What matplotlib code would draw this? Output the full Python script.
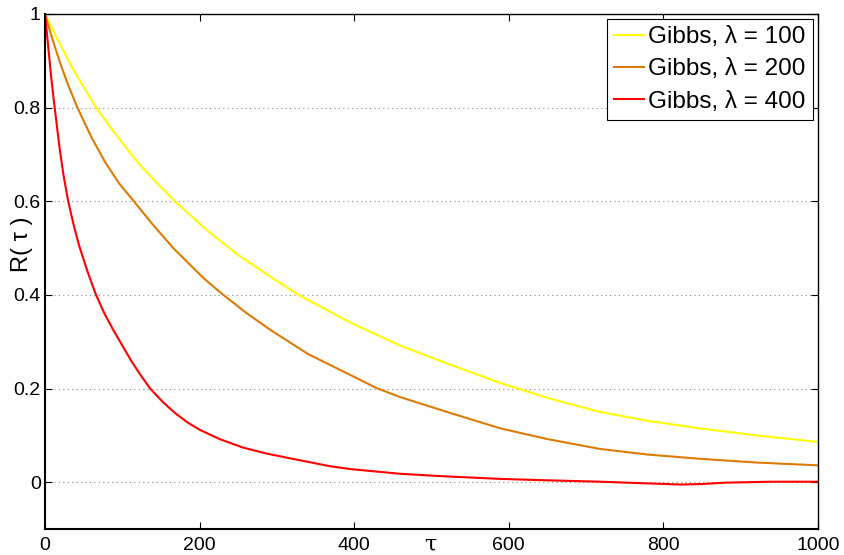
import matplotlib
matplotlib.use("Agg")
import matplotlib.pyplot as plt

plt.rcParams['font.family'] = ['Liberation Sans', 'DejaVu Sans']

tau_100 = [0, 8, 19, 37, 66, 92, 119, 138, 168, 209, 250, 298, 328, 395, 459, 524, 589, 650, 718, 780, 847, 920, 1000]
r_100 = [1.0, 0.973, 0.937, 0.880, 0.800, 0.742, 0.685, 0.651, 0.600, 0.539, 0.485, 0.432, 0.400, 0.341, 0.292, 0.251, 0.212, 0.180, 0.150, 0.131, 0.115, 0.100, 0.086]

tau_200 = [0, 8, 19, 30, 42, 60, 78, 96, 115, 138, 166, 205, 227, 260, 291, 340, 395, 429, 459, 524, 589, 650, 718, 780, 847, 920, 1000]
r_200 = [1.0, 0.955, 0.898, 0.848, 0.800, 0.737, 0.683, 0.638, 0.600, 0.553, 0.500, 0.436, 0.405, 0.362, 0.326, 0.274, 0.229, 0.201, 0.182, 0.148, 0.115, 0.092, 0.071, 0.059, 0.050, 0.042, 0.036]

tau_400 = [0, 4, 8, 12.5, 19, 24, 30, 37, 44, 55, 66, 77, 88, 100, 112, 124, 136, 152, 168, 184, 200, 226, 256, 287, 320, 369, 395, 459, 511, 589, 650, 718, 770, 822, 850, 880, 940, 1000]
r_400 = [1.0, 0.933, 0.865, 0.800, 0.712, 0.655, 0.600, 0.550, 0.506, 0.450, 0.400, 0.360, 0.326, 0.292, 0.258, 0.228, 0.200, 0.172, 0.148, 0.128, 0.112, 0.092, 0.074, 0.061, 0.050, 0.034, 0.028, 0.018, 0.013, 0.007, 0.004, 0.001, -0.002, -0.005, -0.004, -0.001, 0.001, 0.001]

labels = ['Gibbs, λ = 100', 'Gibbs, λ = 200', 'Gibbs, λ = 400']
colors = ['#FFFF00', '#DB7B05', '#FF0000']

xticks = [0, 200, 400, 600, 800, 1000]
yticks = [0, 0.2, 0.4, 0.6, 0.8, 1]
yticklabels = ['0', '0.2', '0.4', '0.6', '0.8', '1']

fig = plt.figure(figsize=(8.44, 5.55), dpi=100)
ax = fig.add_axes([45/844, 1 - 529/555, (818-45)/844, (529-14)/555])

for t, r, lab, c in zip([tau_100, tau_200, tau_400], [r_100, r_200, r_400], labels, colors):
    ax.plot(t, r, color=c, lw=1.5, label=lab, solid_joinstyle='round')

ax.set_xlim(0, 1000)
ax.set_ylim(-0.1, 1)
ax.set_xticks(xticks)
ax.set_xticklabels([str(x) for x in xticks])
ax.set_yticks(yticks)
ax.set_yticklabels(yticklabels)
ax.tick_params(direction='in', length=5, width=0.8, labelsize=14, top=True, right=True)
ax.tick_params(axis='x', pad=6)
ax.tick_params(axis='y', pad=3)
ax.yaxis.grid(True, linestyle=(0, (1, 3)), color='#888888', lw=0.8)
ax.set_axisbelow(True)
for s in ['left', 'bottom']:
    ax.spines[s].set_linewidth(1.5)
for s in ['top', 'right']:
    ax.spines[s].set_linewidth(1.0)

ax.set_xlabel('τ', fontsize=16, family=['DejaVu Serif'], va='center')
ax.xaxis.set_label_coords(0.498, -0.031)
ax.set_ylabel('R( τ )', fontsize=17)
ax.yaxis.set_label_coords(-0.0155, 0.552)

leg = ax.legend(loc='upper right', fontsize=17.5, frameon=True, fancybox=False,
                borderaxespad=0.2, handlelength=1.2, handletextpad=0.2,
                labelspacing=0.42, borderpad=0.3)
leg.get_frame().set_edgecolor('black')
leg.get_frame().set_linewidth(0.8)
leg.get_frame().set_alpha(1)

fig.savefig('out.png', dpi=100)
